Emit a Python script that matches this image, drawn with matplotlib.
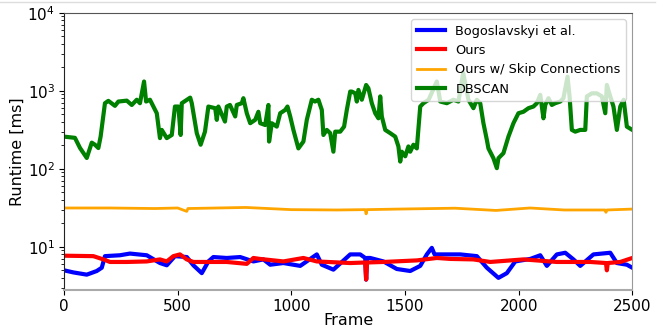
import matplotlib
matplotlib.use("Agg")
import matplotlib.pyplot as plt
from matplotlib.lines import Line2D

# runtime per frame (frame, ms)
bogo_frames = [0, 41, 100, 144, 166, 180, 246, 290, 364, 422, 452, 488, 540, 569, 606, 635, 657,
               716, 775, 833, 877, 907, 965, 1039, 1112, 1134, 1185, 1259, 1303, 1325, 1329, 1333,
               1347, 1405, 1464, 1523, 1567, 1596, 1618, 1630, 1669, 1743, 1816, 1860, 1911, 1948,
               1985, 2051, 2095, 2124, 2168, 2205, 2241, 2271, 2329, 2403, 2432, 2476, 2500]
bogo_ms = [5.0, 4.7, 4.4, 4.9, 5.4, 7.6, 7.8, 8.2, 7.8, 6.2, 5.8, 7.6, 7.4, 5.8, 4.6, 6.5, 7.4,
           7.2, 7.4, 6.5, 6.9, 5.9, 6.2, 5.7, 8.0, 5.9, 5.1, 8.0, 8.0, 7.2, 3.8, 7.2,
           7.2, 6.5, 5.2, 4.9, 5.7, 8.0, 9.7, 8.0, 8.0, 8.0, 7.6, 5.4, 4.0, 4.6,
           6.5, 7.0, 7.8, 5.7, 8.0, 8.4, 6.9, 5.7, 8.0, 8.4, 6.2, 5.9, 5.4]

ours_frames = [0, 129, 173, 202, 276, 364, 422, 452, 481, 510, 540, 569, 716, 804, 833, 862, 965,
               1053, 1112, 1259, 1325, 1329, 1333, 1405, 1552, 1640, 1699, 1801, 1875, 2021, 2168,
               2315, 2384, 2388, 2392, 2447, 2500]
ours_ms = [7.7, 7.6, 6.9, 6.4, 6.4, 6.5, 6.9, 6.5, 7.6, 8.0, 6.9, 6.4, 6.4, 6.05, 7.2, 7.0, 6.5,
           7.2, 6.5, 6.2, 6.3, 3.8, 6.3, 6.4, 6.7, 7.2, 7.0, 6.9, 6.4, 6.9, 6.4,
           6.4, 6.2, 5.0, 6.2, 6.4, 7.2]

skip_frames = [0, 200, 400, 500, 540, 545, 800, 1000, 1200, 1325, 1329, 1333, 1470, 1720, 1900,
               2050, 2200, 2380, 2384, 2388, 2500]
skip_ms = [31.5, 31.5, 31, 31.5, 28.5, 31, 32, 30, 29.7, 30, 26.5, 30, 30.5, 31.3, 29.3,
           31.5, 29.7, 29.7, 27.7, 29.7, 30.5]

dbscan_frames = [0, 48, 70, 100, 122, 136, 151, 161, 180, 195, 224, 239, 276, 298, 320, 334, 352,
                 361, 378, 393, 408, 422, 430, 452, 474, 488, 503, 513, 518, 555, 562, 584, 601,
                 620, 635, 665, 672, 679, 708, 716, 730, 753, 760, 782, 789, 804, 819, 841, 855,
                 863, 885, 899, 902, 914, 936, 951, 973, 983, 995, 1009, 1031, 1053, 1068, 1090,
                 1104, 1119, 1134, 1141, 1156, 1171, 1185, 1193, 1215, 1232, 1244, 1259, 1266,
                 1281, 1288, 1295, 1310, 1329, 1339, 1354, 1369, 1383, 1391, 1398, 1413, 1435,
                 1457, 1471, 1479, 1486, 1501, 1515, 1523, 1537, 1552, 1567, 1581, 1604, 1640,
                 1655, 1684, 1713, 1735, 1756, 1779, 1801, 1816, 1831, 1845, 1860, 1867, 1889,
                 1904, 1911, 1933, 1955, 1977, 1999, 2021, 2043, 2065, 2080, 2095, 2109, 2117,
                 2131, 2146, 2161, 2183, 2197, 2215, 2224, 2234, 2249, 2271, 2293, 2300, 2322,
                 2344, 2366, 2381, 2388, 2403, 2417, 2432, 2447, 2462, 2476, 2500]
dbscan_ms = [259, 250, 186, 138, 217, 204, 185, 260, 695, 745, 643, 730, 750, 660, 770, 695, 1320,
             730, 770, 630, 517, 248, 316, 248, 272, 630, 630, 272, 695, 820, 695, 287, 204,
             300, 630, 600, 425, 630, 404, 630, 660, 470, 660, 695, 806, 517, 385, 425, 540,
             385, 365, 660, 224, 385, 348, 517, 570, 630, 470, 316, 183, 224, 425, 770,
             730, 770, 570, 272, 316, 287, 166, 300, 300, 348, 570, 980, 980,
             930, 730, 1030, 770, 1190, 1080, 695, 517, 445, 850, 470, 316, 287,
             259, 194, 124, 166, 145, 194, 166, 204, 183, 630, 695, 770, 1320,
             730, 695, 770, 730, 1700, 770, 600, 770, 695, 385, 236, 183, 137,
             102, 137, 159, 259, 385, 517, 540, 600, 630, 695, 890, 445, 660,
             806, 660, 695, 730, 806, 1520, 850, 316, 300, 316, 316, 850, 930,
             930, 850, 517, 1190, 850, 630, 316, 630, 770, 348, 316]

fig = plt.figure(figsize=(6.67, 3.31), dpi=100)
ax = fig.add_axes([0.096, 0.124, 0.852, 0.837])

ax.plot(bogo_frames, bogo_ms, color='blue', lw=3, label='Bogoslavskyi et al.')
ax.plot(ours_frames, ours_ms, color='red', lw=3, label='Ours')
ax.plot(skip_frames, skip_ms, color='orange', lw=2, label='Ours w/ Skip Connections')
ax.plot(dbscan_frames, dbscan_ms, color='green', lw=3, label='DBSCAN')

ax.set_yscale('log')
ax.set_xlim(0, 2500)
ax.set_ylim(2.8, 1e4)
ax.set_xticks([0, 500, 1000, 1500, 2000, 2500])
ax.tick_params(labelsize=11, pad=3)
ax.set_xlabel('Frame', fontsize=11.5, labelpad=-1)
ax.set_ylabel('Runtime [ms]', fontsize=11.5, labelpad=2)

ax.spines['left'].set_color('#222222')
ax.spines['top'].set_color('#555555')
ax.spines['right'].set_color('#999999')
ax.spines['bottom'].set_color('#aaaaaa')
ax.spines['bottom'].set_linewidth(1.5)

ax.legend(loc='upper right', fontsize=9.3, labelspacing=0.5, handlelength=2.2)

fig.add_artist(Line2D([0, 0.982], [0.994, 0.994], color='#dddddd', lw=1))

fig.savefig('out.png', dpi=100)
